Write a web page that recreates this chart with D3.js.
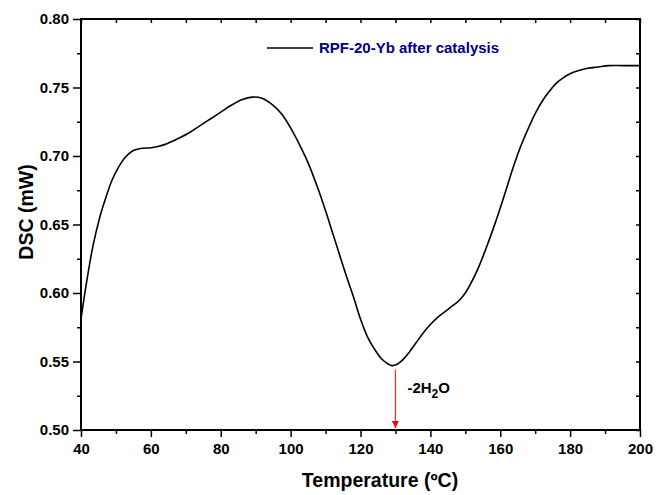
<!DOCTYPE html>
<html>
<head>
<meta charset="utf-8">
<script src="https://cdn.jsdelivr.net/npm/d3@7"></script>
<style>
  body { margin: 0; background: #fff; }
  svg { display: block; font-family: "Liberation Sans", Arial, sans-serif; }
</style>
</head>
<body>
<svg id="chart" width="656" height="495"></svg>
<script>
// DSC trace: temperature (°C) and heat flow (mW)
const temperature = [40, 41.7, 43.4, 45.4, 46.9, 48.9, 51, 53, 55, 57, 60, 62, 64.6, 68, 71, 74, 77, 80, 83, 86, 89, 92, 95, 97.5, 100, 102.5, 105, 108, 110, 112, 114, 116, 118, 120, 122, 124, 126, 128, 129, 130.5, 132, 134, 136, 138, 140, 142, 144, 146, 148, 150, 152, 154, 156, 158, 160, 162, 164, 166, 168, 170, 172, 174, 176, 178, 180, 182, 185, 188, 191, 195, 200];
const dsc = [0.581, 0.6095, 0.634, 0.6555, 0.668, 0.6825, 0.693, 0.700, 0.704, 0.7055, 0.706, 0.707, 0.709, 0.713, 0.717, 0.722, 0.727, 0.732, 0.737, 0.741, 0.743, 0.742, 0.737, 0.7305, 0.7205, 0.7085, 0.695, 0.675, 0.660, 0.644, 0.628, 0.612, 0.597, 0.581, 0.568, 0.559, 0.552, 0.548, 0.547, 0.548, 0.551, 0.557, 0.564, 0.571, 0.577, 0.582, 0.586, 0.590, 0.594, 0.600, 0.609, 0.620, 0.633, 0.647, 0.662, 0.678, 0.694, 0.708, 0.720, 0.731, 0.740, 0.747, 0.753, 0.757, 0.760, 0.762, 0.764, 0.765, 0.766, 0.766, 0.766];

const xTicks = [40, 60, 80, 100, 120, 140, 160, 180, 200];
const xMinorTicks = [50, 70, 90, 110, 130, 150, 170, 190];
const yTicks = [0.50, 0.55, 0.60, 0.65, 0.70, 0.75, 0.80];
const yMinorTicks = [0.525, 0.575, 0.625, 0.675, 0.725, 0.775];

const seriesName = "RPF-20-Yb after catalysis";
const peakTemp = 130;
const peakLabel = ["-2H", "2", "O"];

const svg = d3.select("#chart");
const m = { left: 81, right: 640, top: 19, bottom: 430 };

const x = d3.scaleLinear().domain([40, 200]).range([m.left, m.right]);
const y = d3.scaleLinear().domain([0.50, 0.80]).range([m.bottom, m.top]);

const tickFont = "bold 15px 'Liberation Sans', Arial, sans-serif";
const titleFont = "bold 19.5px 'Liberation Sans', Arial, sans-serif";

// bottom axis
const bottom = svg.append("g").attr("transform", `translate(0,${m.bottom})`);
bottom.call(d3.axisBottom(x).tickValues(xTicks).tickSize(7).tickFormat(d3.format("d")));
bottom.append("g").call(d3.axisBottom(x).tickValues(xMinorTicks).tickSize(4).tickFormat(""));

// left axis
const left = svg.append("g").attr("transform", `translate(${m.left},0)`);
left.call(d3.axisLeft(y).tickValues(yTicks).tickSize(8).tickFormat(d3.format(".2f")));
left.append("g").call(d3.axisLeft(y).tickValues(yMinorTicks).tickSize(4).tickFormat(""));

// top and right axes: inward ticks, no labels
svg.append("g").attr("transform", `translate(0,${m.top})`)
  .call(d3.axisBottom(x).tickValues(xTicks.concat(xMinorTicks)).tickSize(4).tickFormat(""));
svg.append("g").attr("transform", `translate(${m.right},0)`)
  .call(d3.axisLeft(y).tickValues(yTicks.concat(yMinorTicks)).tickSize(4).tickFormat(""));

svg.selectAll(".domain").remove();
svg.selectAll(".tick line").attr("stroke", "#000").attr("stroke-width", 1.5);
svg.selectAll(".tick text").style("font", tickFont).attr("fill", "#000");
bottom.selectAll(".tick text").attr("dy", "0.95em");
left.selectAll(".tick text").attr("dx", "-1px");

// frame
svg.append("rect")
  .attr("x", m.left).attr("y", m.top)
  .attr("width", m.right - m.left).attr("height", m.bottom - m.top)
  .attr("fill", "none").attr("stroke", "#000").attr("stroke-width", 2);

// curve
const pts = temperature.map((t, i) => [t, dsc[i]]);
svg.append("path")
  .datum(pts)
  .attr("fill", "none")
  .attr("stroke", "#000")
  .attr("stroke-width", 1.6)
  .attr("d", d3.line().x(d => x(d[0])).y(d => y(d[1])).curve(d3.curveCatmullRom.alpha(0.5)));

// axis titles
svg.append("text")
  .attr("x", 380).attr("y", 487)
  .attr("text-anchor", "middle")
  .style("font", titleFont)
  .text("Temperature (ºC)");

svg.append("text")
  .attr("transform", "translate(33,212) rotate(-90)")
  .attr("text-anchor", "middle")
  .style("font", titleFont)
  .text("DSC (mW)");

// legend
svg.append("line")
  .attr("x1", 267).attr("x2", 313).attr("y1", 48).attr("y2", 48)
  .attr("stroke", "#000").attr("stroke-width", 1.6);
svg.append("text")
  .attr("x", 319).attr("y", 53)
  .attr("fill", "#000080")
  .style("font", "bold 15px 'Liberation Sans', Arial, sans-serif")
  .text(seriesName);

// peak annotation arrow
const defs = svg.append("defs");
defs.append("marker")
  .attr("id", "arrowhead")
  .attr("viewBox", "0 0 10 10")
  .attr("refX", 10).attr("refY", 5)
  .attr("markerWidth", 7).attr("markerHeight", 7)
  .attr("markerUnits", "userSpaceOnUse")
  .attr("orient", "auto")
  .append("path").attr("d", "M0,0 L10,5 L0,10 Z").attr("fill", "#ff0000");

const ax = x(peakTemp);
svg.append("line")
  .attr("x1", ax).attr("x2", ax)
  .attr("y1", y(0.547) + 4).attr("y2", m.bottom - 2)
  .attr("stroke", "#ff3030").attr("stroke-width", 1.3)
  .attr("marker-end", "url(#arrowhead)");

const lbl = svg.append("text")
  .attr("x", ax + 12).attr("y", 393)
  .style("font", "bold 15px 'Liberation Sans', Arial, sans-serif")
  .attr("fill", "#000");
lbl.append("tspan").text(peakLabel[0]);
lbl.append("tspan").attr("dy", 5).style("font-size", "12px").text(peakLabel[1]);
lbl.append("tspan").attr("dy", -5).text(peakLabel[2]);
</script>
</body>
</html>
